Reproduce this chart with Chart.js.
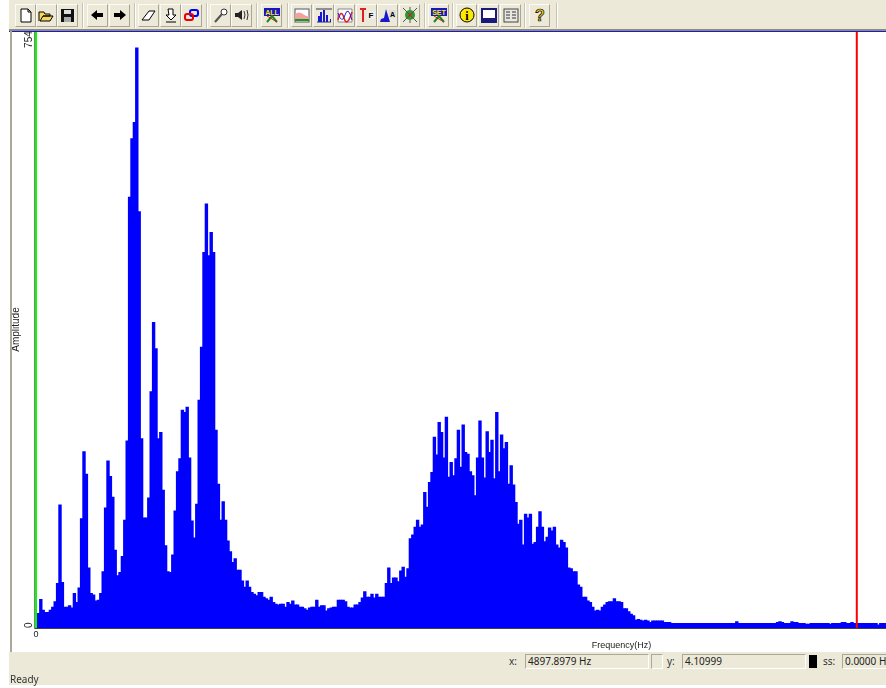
<!DOCTYPE html>
<html><head><meta charset="utf-8">
<style>
html,body{margin:0;padding:0;background:#fff;width:886px;height:688px;overflow:hidden}
#page{position:relative;width:886px;height:688px;overflow:hidden;font-family:"Noto Sans",sans-serif;color:#222}
#plot{position:absolute;left:0;top:0}
.band{position:absolute;background:#ece9d8}
.btn{position:absolute;top:4px;width:21px;height:23px;box-sizing:border-box;background:#ece9d8;border:1px solid;border-color:#fbfaf4 #a9a691 #a9a691 #fbfaf4}
.btn svg{position:absolute;left:1px;top:2px}
.sep{position:absolute;top:3px;width:1px;height:25px;background:#c6c3b0;border-right:1px solid #fff}
.box{position:absolute;top:654px;height:15px;box-sizing:border-box;border:1px solid;border-color:#aca899 #fff #fff #aca899;font-size:10px;line-height:13px;padding-left:2px;white-space:nowrap;overflow:hidden}
.lab{position:absolute;top:654px;font-size:10px;line-height:15px;color:#333}
</style></head><body>
<div id="page">
  <canvas id="plot" width="1240" height="688"></canvas>
  <div class="band" style="left:9px;top:0;width:877px;height:29px"></div>
  <div style="position:absolute;left:9px;top:29px;width:877px;height:2px;background:#8e8c80"></div>
  <div style="position:absolute;left:9px;top:31px;width:877px;height:1px;background:#1a1ad0"></div>
  <div style="position:absolute;left:10px;top:31px;width:2px;height:621px;background:#aca899"></div>
  <div class="band" style="left:9px;top:652px;width:877px;height:33px"></div>
  <div id="tools"></div>
  <div class="lab" style="left:509px">x:</div>
  <div class="box" style="left:525px;width:124px">4897.8979 Hz</div>
  <div class="box" style="left:651px;width:12px"></div>
  <div class="lab" style="left:667px">y:</div>
  <div class="box" style="left:682px;width:124px">4.10999</div>
  <div style="position:absolute;left:809px;top:655px;width:8px;height:13px;background:#000"></div>
  <div class="lab" style="left:823px">ss:</div>
  <div class="box" style="left:842px;width:60px">0.0000 Hz</div>
  <div class="lab" style="left:10px;top:672px">Ready</div>
</div>
<script src="https://cdn.jsdelivr.net/npm/chart.js@4"></script>
<script>
const yAxisTitle = 'Amplitude';
const xAxisTitle = 'Frequency(Hz)';
const yTickValues = [0, 754];
const xTickLabels = ['0'];
const binCount = 489;
const yTop = 776;
const greenCursor = [{x: '0', y: 776}];
const redCursor = [{x: '342', y: 776}];

// Amplitude of each FFT bin (the first bin sits under the green cursor)
const lowBand = [0,
 19,37,23,20,20,23,27,34,58,160,59,27,27,29,26,45,33,52,142,229,
 200,78,45,43,35,36,45,73,156,217,197,170,101,68,72,93,140,243,560,636,
 657,754,541,246,143,143,169,307,397,363,246,254,179,107,73,72,95,152,203,220,
 283,280,287,221,139,117,161,296,365,488,551,484,514,488,257,187,140,164,140,113,
 99,85,90,75,75,61,53,61,53,46,44,42,46,46,40,38,36,40,33,31];
const valleyBand = [
 30,31,31,27,33,31,35,30,30,27,27,25,23,26,27,27,36,27,29,29,
 22,25,26,27,27,36,36,36,34,27,26,26,30,30,33,39,47,40,40,44,
 39,44,40,40,40,58,78,58,65,65,60,74,79,66,77];
const midBand = [
 116,121,131,140,131,134,176,157,189,202,248,225,267,254,221,274,196,215,198,220,
 257,209,264,228,226,203,198,172,221,269,221,195,255,228,244,194,280,203,251,233,
 241,187,211,186,163,135,140,108,148,143,148,109,111,131,151,131,112,118,130,126,
 131,108,104,114,111,104,78,77,73,73,56,53,40,40,35,33,27,22,23,22,
 27,30,33,34,34,38,34,34,33,25,25,21,18,16,10,11,10,9,10,9,
 7,9,9,9,9,9,7,7,7];
const tailBand = [
 6,6,6,6,6,6,6,6,6,6,6,6,6,6,6,6,6,6,6,6,
 6,6,6,6,6,6,6,8,6,6,6,6,6,6,6,6,6,6,6,6,
 6,6,6,6,7,8,7,6,6,6,8,7,7,6,6,6,5,5,6,6,
 6,6,6,6,6,6,5,6,6,6,6,7,7,6,6,7,6,6,6,6,
 6,6,6,6,6,6,4,6,6,6,6,6,6];

const amplitude = [...lowBand, ...valleyBand, ...midBand, ...tailBand];
const bins = Array.from({length: binCount}, (_, i) => String(i));

const toolX = [15,36,57,87,109,138,160,181,210,231,261,291,313,334,356,377,399,428,456,478,500,529];
const toolGlyph = [
 '<path d="M4 2h7l3 3v10H4z" fill="#fff" stroke="#000"/><path d="M11 2v3h3" fill="none" stroke="#000"/>',
 '<path d="M1 14V5h5l1 2h5v2H5l-3 5h10l3-5H5" fill="#f6d55a" stroke="#000"/>',
 '<path d="M2 2h13v13H2z" fill="#111"/><path d="M5 3h7v4H5z" fill="#ddd"/><path d="M5 10h7v5H5z" fill="#aaa"/>',
 '<path d="M2 8l6-5v3h6v4H8v3z" fill="#000"/>',
 '<path d="M15 8L9 3v3H3v4h6v3z" fill="#000"/>',
 '<path d="M2 13l7-9h6l-6 9z" fill="#fff" stroke="#000"/>',
 '<path d="M6 2h5v6h3l-5 5-5-5h3zM4 15h10" fill="#fff" stroke="#000"/>',
 '<rect x="7" y="3" width="8" height="6" rx="2" fill="none" stroke="#00f" stroke-width="2"/><rect x="2" y="7" width="8" height="6" rx="2" fill="none" stroke="#e00" stroke-width="2"/>',
 '<path d="M3 15l7-8" stroke="#555" stroke-width="2"/><circle cx="12" cy="5" r="3" fill="#fff" stroke="#333"/>',
 '<path d="M2 6h3l4-3v10L5 10H2z" fill="#222"/><path d="M11 4q2 4 0 8M14 3q2 5 0 10" fill="none" stroke="#333"/>',
 '<rect x="1" y="1" width="16" height="8" fill="#1818c0"/><text x="9" y="8" font-size="7" font-weight="700" text-anchor="middle" fill="#ffe800" font-family="Liberation Sans">ALL</text><path d="M4 15l5-6 5 6" fill="none" stroke="#1a8a1a" stroke-width="2"/><path d="M4 9l10 6" stroke="#c02020"/>',
 '<rect x="2" y="2" width="14" height="13" fill="#fff" stroke="#556"/><path d="M2 7q4-3 8 0t6 2v5H2z" fill="#f4a0a0"/><path d="M2 13h14" stroke="#1a9a1a" stroke-width="2"/>',
 '<path d="M2 15h14M1 2h16" stroke="#335"/><path d="M3 15V9h2V5h2v10h1V3h2v12h1V8h2v7h2v-3h1v3" fill="#1818d0"/>',
 '<path d="M2 2h14v13H2z" fill="#fff" stroke="#888"/><path d="M2 13q3-12 6-2t8-6" fill="none" stroke="#e02020" stroke-width="1.5"/><path d="M2 6q4 12 7 2t7 5" fill="none" stroke="#2020e0"/>',
 '<path d="M2 2h6M5 2v13" stroke="#e02020" stroke-width="2"/><rect x="9" y="4" width="8" height="8" fill="#eee"/><text x="13" y="11" font-size="8" font-weight="700" text-anchor="middle" font-family="Liberation Sans">F</text>',
 '<path d="M1 15h10L7 2l-2 9-3 1z" fill="#1818d0"/><rect x="10" y="3" width="7" height="8" fill="#ddd"/><text x="13.5" y="10" font-size="7" font-weight="700" text-anchor="middle" font-family="Liberation Sans">A</text>',
 '<circle cx="9" cy="8" r="5" fill="#2a9a2a"/><circle cx="9" cy="8" r="2" fill="#e03020"/><path d="M2 1l14 14M16 1L2 15M9 0v3M9 13v3" stroke="#555"/>',
 '<rect x="1" y="1" width="16" height="8" fill="#1818c0"/><text x="9" y="8" font-size="7" font-weight="700" text-anchor="middle" fill="#ffe800" font-family="Liberation Sans">SET</text><path d="M4 15l5-6 5 6" fill="none" stroke="#1a8a1a" stroke-width="2"/><path d="M4 9l10 6" stroke="#c02020"/>',
 '<circle cx="9" cy="8" r="7" fill="#ffe800" stroke="#000"/><text x="9" y="13" font-size="12" font-weight="700" text-anchor="middle" font-family="Liberation Serif">i</text>',
 '<rect x="2" y="2" width="14" height="13" fill="#fff" stroke="#1a1a7a" stroke-width="2"/><rect x="2" y="11" width="14" height="4" fill="#1a1a7a"/>',
 '<rect x="2" y="2" width="14" height="13" fill="#e8e8e0" stroke="#444"/><path d="M4 5h4M10 5h4M4 8h4M10 8h4M4 11h4M10 11h4" stroke="#333"/>',
 '<text x="9" y="14" font-size="16" font-weight="700" text-anchor="middle" fill="#f2d020" stroke="#000" stroke-width=".7" font-family="Liberation Sans">?</text>'
];
const sepX = [82,134,206,256,287,424,452,524,556];

const toolsEl = document.getElementById('tools');
toolX.forEach((x, i) => {
  const b = document.createElement('div');
  b.className = 'btn';
  b.style.left = x + 'px';
  b.innerHTML = '<svg width="18" height="17" viewBox="0 0 18 17">' + toolGlyph[i] + '</svg>';
  toolsEl.appendChild(b);
});
sepX.forEach(x => {
  const s = document.createElement('div');
  s.className = 'sep';
  s.style.left = x + 'px';
  toolsEl.appendChild(s);
});

new Chart(document.getElementById('plot'), {
  type: 'bar',
  data: {
    labels: bins,
    datasets: [
      {label: 'Left cursor', data: greenCursor, backgroundColor: '#00ff00', barThickness: 2, inflateAmount: 0, grouped: false, order: 0},
      {label: 'Right cursor', data: redCursor, backgroundColor: '#ff0000', barThickness: 2, inflateAmount: 0, grouped: false, order: 0},
      {label: 'Amplitude', data: amplitude, backgroundColor: '#0000ff', barPercentage: 1, categoryPercentage: 1, inflateAmount: 0.5, grouped: false, order: 1}
    ]
  },
  options: {
    responsive: false,
    animation: false,
    events: [],
    layout: {padding: {left: 12, top: 31, right: 31.6, bottom: 37}},
    plugins: {legend: {display: false}, tooltip: {enabled: false}},
    scales: {
      x: {
        offset: true,
        grid: {display: false, drawTicks: false},
        border: {display: true, color: '#404040', width: 2},
        afterBuildTicks: s => { s.ticks = [{value: 0}]; },
        afterFit: s => { s.height = 23; },
        ticks: {
          autoSkip: false, maxRotation: 0, padding: 1, color: '#222',
          font: {family: 'Liberation Sans', size: 9},
          callback: (v, i) => xTickLabels[i]
        },
        title: {display: true, text: xAxisTitle, color: '#222', padding: 0,
          font: {family: 'Liberation Sans', size: 9}}
      },
      y: {
        min: 0, max: yTop,
        grid: {display: false, drawTicks: false},
        border: {display: true, color: '#808080', width: 1},
        afterBuildTicks: s => { s.ticks = yTickValues.map(v => ({value: v})); },
        afterFit: s => { s.width = 22.8; },
        ticks: {
          autoSkip: false, minRotation: 90, maxRotation: 90, mirror: true, padding: -5.8, crossAlign: 'near', color: '#222',
          font: {family: 'Liberation Sans', size: 10},
          callback: v => String(v)
        },
        title: {display: true, text: yAxisTitle, color: '#222', padding: {top: -2, bottom: 0},
          font: {family: 'Liberation Sans', size: 10}}
      }
    }
  }
});
</script>
</body></html>
